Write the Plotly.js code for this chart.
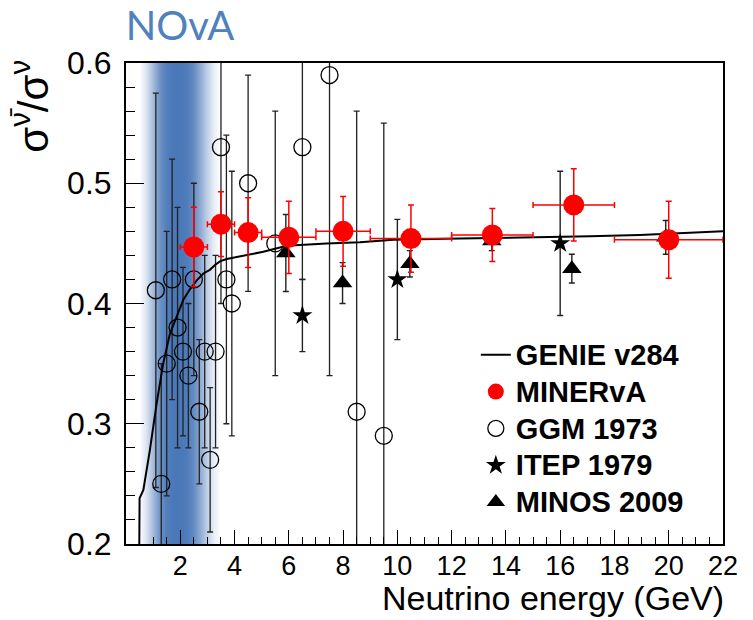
<!DOCTYPE html>
<html>
<head>
<meta charset="utf-8">
<script src="https://cdn.plot.ly/plotly-3.0.1.min.js"></script>
<style>html,body{margin:0;padding:0;background:#fff;}</style>
</head>
<body>
<div id="chart" style="width:753px;height:620px;"></div>
<script>
// ---- data ----
const xTicks = [2, 4, 6, 8, 10, 12, 14, 16, 18, 20, 22];
const xTickText = ["2", "4", "6", "8", "10", "12", "14", "16", "18", "20", "22"];
const yTicks = [0.2, 0.3, 0.4, 0.5, 0.6];
const yTickText = ["0.2", "0.3", "0.4", "0.5", "0.6"];
const xRange = [0, 22];
const yRange = [0.2, 0.6];

// NOvA flux band (relative intensity of the shading across energy)
const bandE = [0.5, 0.75, 1.0, 1.25, 1.5, 1.75, 2.0, 2.25, 2.5, 2.75, 3.0, 3.25, 3.5];
const bandLevel = [0.0, 0.2, 0.5, 0.8, 0.95, 1.0, 1.0, 0.97, 0.85, 0.62, 0.35, 0.12, 0.0];

// GENIE v284 prediction
const genieE = [0.49, 0.50, 0.64, 0.88, 1.13, 1.37, 1.62, 1.87, 2.11, 2.36, 2.60, 2.85, 3.09, 3.28, 3.46, 3.71, 4.20, 4.57, 5.06, 5.92, 7.39, 8.62, 9.85, 12.3, 15.25, 17.1, 18.93, 22.0];
const genieR = [0.20, 0.238, 0.245, 0.278, 0.317, 0.350, 0.375, 0.389, 0.403, 0.412, 0.419, 0.425, 0.428, 0.432, 0.435, 0.437, 0.439, 0.441, 0.443, 0.448, 0.450, 0.451, 0.453, 0.454, 0.455, 0.456, 0.457, 0.460];

// MINERvA
const minervaE = [2.5, 3.5, 4.5, 6.0, 8.0, 10.5, 13.5, 16.5, 20.0];
const minervaR = [0.447, 0.466, 0.459, 0.455, 0.460, 0.454, 0.457, 0.482, 0.453];
const minervaErr = [0.033, 0.027, 0.029, 0.030, 0.029, 0.028, 0.022, 0.030, 0.032];
const minervaBinLo = [2, 3, 4, 5, 7, 9, 12, 15, 18];
const minervaBinHi = [3, 4, 5, 7, 9, 12, 15, 18, 22];

// GGM 1973
const ggmE = [1.1, 1.3, 1.5, 1.7, 1.9, 2.1, 2.3, 2.5, 2.7, 2.9, 3.1, 3.3, 3.5, 3.7, 3.9, 4.5, 5.5, 6.5, 7.5, 8.5, 9.5];
const ggmR = [0.411, 0.25, 0.35, 0.42, 0.38, 0.36, 0.34, 0.42, 0.31, 0.36, 0.27, 0.36, 0.53, 0.42, 0.40, 0.50, 0.45, 0.53, 0.59, 0.31, 0.29];
const ggmErr = [0.164, 0.10, 0.11, 0.10, 0.10, 0.07, 0.06, 0.08, 0.06, 0.08, 0.06, 0.08, 0.13, 0.12, 0.11, 0.09, 0.11, 0.11, 0.25, 0.25, 0.26];

// ITEP 1979
const itepE = [6.5, 10.0, 16.0];
const itepR = [0.39, 0.42, 0.45];
const itepErr = [0.03, 0.05, 0.06];

// MINOS 2009
const minosE = [5.89, 7.98, 10.46, 13.48, 16.43, 19.89];
const minosR = [0.442, 0.417, 0.433, 0.452, 0.429, 0.455];
const minosErr = [0.032, 0.017, 0.011, 0.008, 0.012, 0.014];

// ---- styling helpers ----
const FONT = "Liberation Sans, Arial, Helvetica, sans-serif";
const BAND_RGB = [74, 120, 184];

function bandColor(level) {
  const c = BAND_RGB.map(v => Math.round(255 - level * (255 - v)));
  return "rgb(" + c.join(",") + ")";
}
const e0 = bandE[0], e1 = bandE[bandE.length - 1];
const bandScale = bandE.map((e, i) => [(e - e0) / (e1 - e0), bandColor(bandLevel[i])]);

// ---- traces ----
const band = {
  type: "scatter", mode: "none", fill: "toself",
  x: [e0, e1, e1, e0, e0],
  y: [yRange[0], yRange[0], yRange[1], yRange[1], yRange[0]],
  fillgradient: {type: "horizontal", colorscale: bandScale, start: e0, stop: e1},
  showlegend: false, hoverinfo: "skip"
};

const ggm = {
  type: "scatter", mode: "markers", name: "GGM 1973", legendrank: 3,
  x: ggmE, y: ggmR,
  marker: {symbol: "circle-open", size: 17, color: "#000", line: {width: 1.3, color: "#000"}},
  error_y: {type: "data", array: ggmErr, visible: true, color: "#222", thickness: 1.3, width: 3}
};

const itep = {
  type: "scatter", mode: "markers", name: "ITEP 1979", legendrank: 4,
  x: itepE, y: itepR,
  marker: {symbol: "star", size: 15, color: "#000"},
  error_y: {type: "data", array: itepErr, visible: true, color: "#222", thickness: 1.4, width: 3}
};

const minos = {
  type: "scatter", mode: "markers", name: "MINOS 2009", legendrank: 5,
  x: minosE, y: minosR,
  marker: {symbol: "triangle-up", size: 17, color: "#000"},
  error_y: {type: "data", array: minosErr, visible: true, color: "#222", thickness: 1.4, width: 3}
};

const genie = {
  type: "scatter", mode: "lines", name: "GENIE v284", legendrank: 1,
  x: genieE, y: genieR,
  line: {color: "#000", width: 2}
};

const minerva = {
  type: "scatter", mode: "markers", name: "MINERvA", legendrank: 2,
  x: minervaE, y: minervaR,
  marker: {symbol: "circle", size: 21, color: "#ff0000"},
  error_y: {type: "data", array: minervaErr, visible: true, color: "#ff0000", thickness: 1.5, width: 3},
  error_x: {type: "data",
    array: minervaE.map((e, i) => minervaBinHi[i] - e),
    arrayminus: minervaE.map((e, i) => e - minervaBinLo[i]),
    visible: true, color: "#ff0000", thickness: 1.5, width: 3}
};

// legend names rendered slightly larger than the legend line spacing font
[ggm, itep, minos, genie, minerva].forEach(t => {
  t.name = '<span style="font-size:29px">' + t.name + '</span>';
});

const data = [band, ggm, itep, minos, genie, minerva];

const layout = {
  width: 753, height: 620,
  margin: {l: 126, r: 30, t: 63, b: 76, pad: 0},
  paper_bgcolor: "#ffffff", plot_bgcolor: "#ffffff",
  font: {family: FONT, color: "#000"},
  showlegend: true,
  title: {
    text: "NOvA",
    font: {family: "Lato, Open Sans, sans-serif", size: 40, color: "#4f81bd"},
    xref: "container", x: 180 / 753, xanchor: "center",
    yref: "container", y: 1 - 26 / 620, yanchor: "middle"
  },
  legend: {
    x: 0.586, y: 0.442, xanchor: "left", yanchor: "top",
    bgcolor: "rgba(255,255,255,0)", borderwidth: 0,
    font: {family: FONT, size: 26, color: "#000", weight: "bold"},
    tracegroupgap: 0
  },
  xaxis: {
    range: xRange, tickmode: "array", tickvals: xTicks, ticktext: xTickText,
    ticks: "inside", ticklen: 14, tickwidth: 1, tickcolor: "#000",
    showline: true, linewidth: 2, linecolor: "#000", mirror: true,
    showgrid: false, zeroline: false,
    ticklabelstandoff: -3,
    tickfont: {family: FONT, size: 27, color: "#000"},
    minor: {dtick: 0.5, tick0: 0, ticks: "inside", ticklen: 7, tickwidth: 1, tickcolor: "#000", showgrid: false}
  },
  yaxis: {
    range: yRange, tickmode: "array", tickvals: yTicks, ticktext: yTickText,
    ticks: "inside", ticklen: 18, tickwidth: 1, tickcolor: "#000",
    showline: true, linewidth: 2, linecolor: "#000", mirror: true,
    showgrid: false, zeroline: false,
    ticklabelstandoff: 6,
    tickfont: {family: FONT, size: 32, color: "#000"},
    minor: {dtick: 0.02, tick0: 0.2, ticks: "inside", ticklen: 9, tickwidth: 1, tickcolor: "#000", showgrid: false}
  },
  annotations: [
    {
      text: "σ<sup>ν̄</sup>/σ<sup>ν</sup>", textangle: -90,
      xref: "paper", yref: "paper", x: -0.16, y: 0.91,
      xanchor: "center", yanchor: "middle", showarrow: false,
      font: {family: FONT, size: 42, color: "#000"}
    },
    {
      text: "Neutrino energy (GeV)",
      xref: "paper", yref: "paper", x: 1.005, y: -0.113,
      xanchor: "right", yanchor: "middle", showarrow: false,
      font: {family: FONT, size: 34, color: "#000"}
    }
  ]
};

Plotly.newPlot("chart", data, layout, {displayModeBar: false, staticPlot: true});
</script>
</body>
</html>
